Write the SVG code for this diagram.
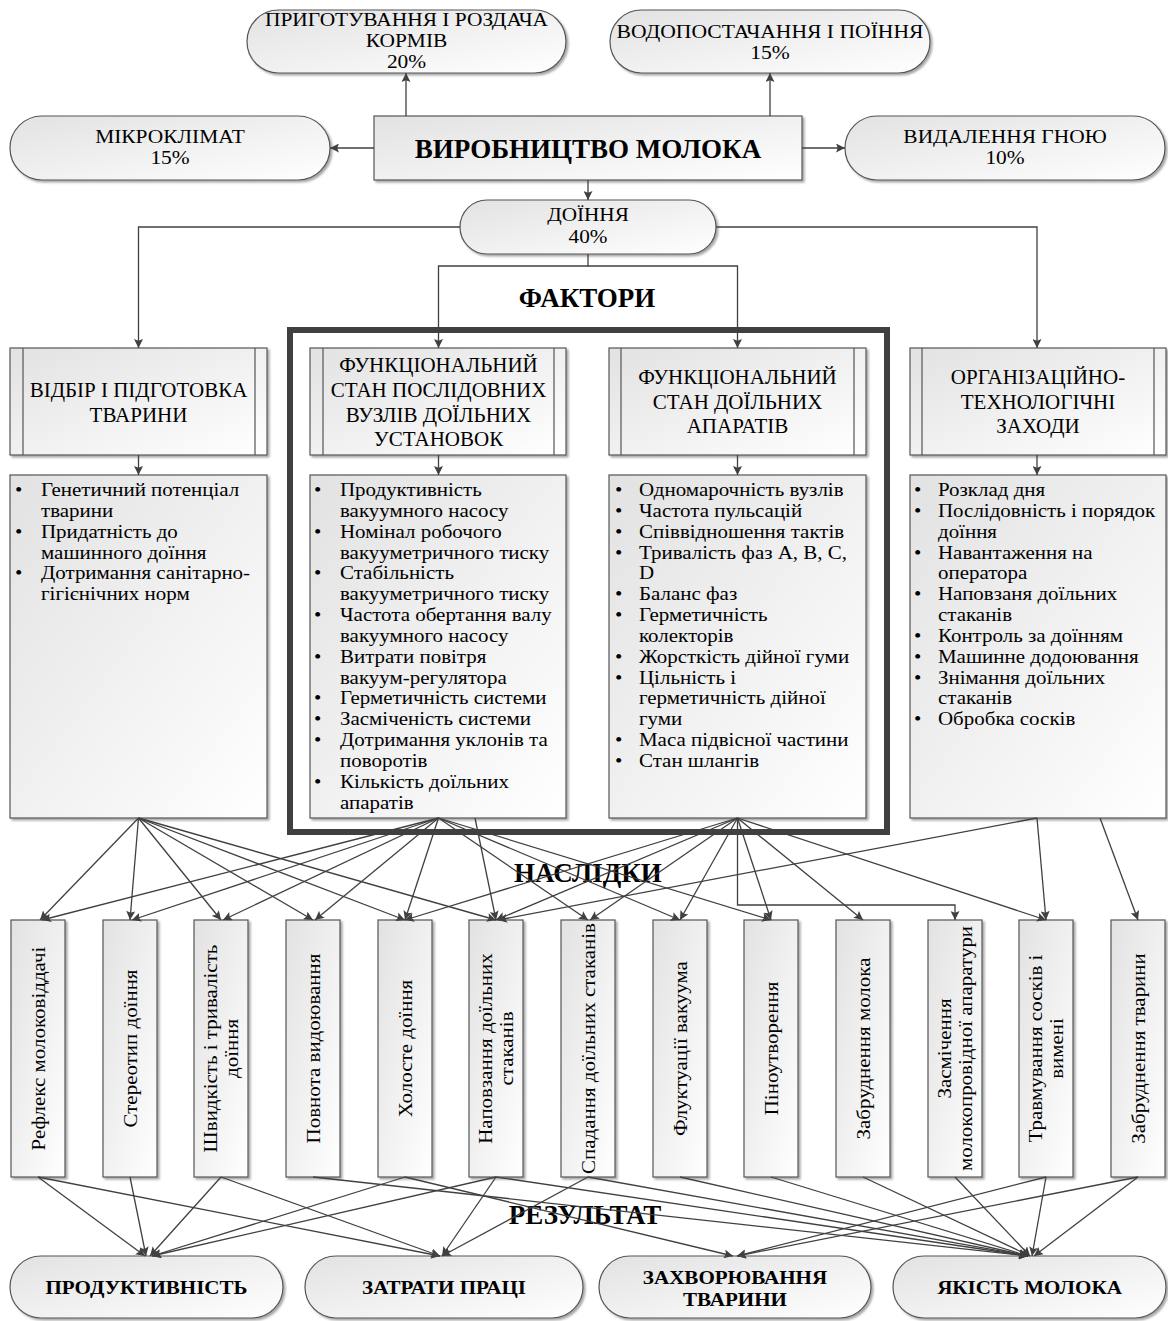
<svg xmlns="http://www.w3.org/2000/svg" width="1168" height="1321" viewBox="0 0 1168 1321">
<defs>
<linearGradient id="gf" x1="0" y1="0" x2="1" y2="1"><stop offset="0" stop-color="#e2e2e2"/><stop offset="1" stop-color="#ffffff"/></linearGradient>
<filter id="sh" x="-10%" y="-10%" width="125%" height="125%"><feDropShadow dx="2" dy="2" stdDeviation="1.2" flood-color="#000" flood-opacity="0.35"/></filter>
<marker id="ah" viewBox="0 0 10 10" refX="10" refY="5" markerWidth="10" markerHeight="9" orient="auto" markerUnits="userSpaceOnUse"><path d="M0,0 L10,5 L0,10 L2,5 z" fill="#404040"/></marker>
</defs>
<style>
.nd{fill:url(#gf);stroke:#555;stroke-width:1.2;filter:url(#sh)}
.in{fill:none;stroke:#555;stroke-width:1.2}
.ln{fill:none;stroke:#404040;stroke-width:1.3;marker-end:url(#ah)}
.t{font-family:"Liberation Serif","Times New Roman",serif;font-size:18.8px;fill:#000}
.h{font-family:"Liberation Serif","Times New Roman",serif;font-size:21px;fill:#000}
.c{text-anchor:middle}
.b{font-weight:bold}
.bt{font-family:"Liberation Serif","Times New Roman",serif;font-size:19.5px;font-weight:bold;fill:#000;text-anchor:middle}
.big{font-family:"Liberation Serif","Times New Roman",serif;font-size:27px;font-weight:bold;fill:#000;text-anchor:middle}
</style>
<rect width="1168" height="1321" fill="#fff"/>

<g id="frame"><rect x="290" y="330" width="597" height="502" fill="none" stroke="#404040" stroke-width="6"/></g>

<g id="n-feed"><rect class="nd" x="247" y="10" width="319" height="63" rx="31.5"/><text class="t c" transform="translate(406.5 0) scale(1.14 1)"><tspan x="0" y="26.5">ПРИГОТУВАННЯ І РОЗДАЧА</tspan><tspan x="0" y="47.5">КОРМІВ</tspan><tspan x="0" y="68.5">20%</tspan></text></g>
<g id="n-water"><rect class="nd" x="610" y="10" width="320" height="63" rx="31.5"/><text class="t c" transform="translate(770 0) scale(1.15 1)"><tspan x="0" y="38">ВОДОПОСТАЧАННЯ І ПОЇННЯ</tspan><tspan x="0" y="59">15%</tspan></text></g>
<g id="n-micro"><rect class="nd" x="10" y="116" width="320" height="64" rx="32"/><text class="t c" transform="translate(170 0) scale(1.14 1)"><tspan x="0" y="143.5">МІКРОКЛІМАТ</tspan><tspan x="0" y="164.5">15%</tspan></text></g>
<g id="n-main"><rect class="nd" x="374" y="116" width="428" height="64"/><text class="big" x="588" y="158">ВИРОБНИЦТВО МОЛОКА</text></g>
<g id="n-manure"><rect class="nd" x="845" y="116" width="320" height="64" rx="32"/><text class="t c" transform="translate(1005 0) scale(1.14 1)"><tspan x="0" y="143.5">ВИДАЛЕННЯ ГНОЮ</tspan><tspan x="0" y="164.5">10%</tspan></text></g>
<g id="n-milking"><rect class="nd" x="460" y="200" width="256" height="54" rx="27"/><text class="t c" transform="translate(588 0) scale(1.13 1)"><tspan x="0" y="221">ДОЇННЯ</tspan><tspan x="0" y="243">40%</tspan></text></g>

<text class="big" x="587" y="307">ФАКТОРИ</text>
<text class="big" x="588" y="882">НАСЛІДКИ</text>
<text class="big" x="585" y="1224">РЕЗУЛЬТАТ</text>

<g id="f1"><rect class="nd" x="10" y="348" width="257" height="107"/><path class="in" d="M23,348V455M255,348V455"/><text class="h c" x="138.5" y="397">ВІДБІР І ПІДГОТОВКА</text><text class="h c" x="138.5" y="422">ТВАРИНИ</text></g>
<g id="f2"><rect class="nd" x="310" y="348" width="256" height="107"/><path class="in" d="M323,348V455M554,348V455"/><text class="h c" x="438.5" y="372">ФУНКЦІОНАЛЬНИЙ</text><text class="h c" x="438.5" y="397">СТАН ПОСЛІДОВНИХ</text><text class="h c" x="438.5" y="422">ВУЗЛІВ ДОЇЛЬНИХ</text><text class="h c" x="438.5" y="446">УСТАНОВОК</text></g>
<g id="f3"><rect class="nd" x="609" y="348" width="257" height="107"/><path class="in" d="M621,348V455M854,348V455"/><text class="h c" x="737.5" y="384">ФУНКЦІОНАЛЬНИЙ</text><text class="h c" x="737.5" y="409">СТАН ДОЇЛЬНИХ</text><text class="h c" x="737.5" y="433">АПАРАТІВ</text></g>
<g id="f4"><rect class="nd" x="910" y="348" width="256" height="107"/><path class="in" d="M922,348V455M1154,348V455"/><text class="h c" x="1038" y="384">ОРГАНІЗАЦІЙНО-</text><text class="h c" x="1038" y="409">ТЕХНОЛОГІЧНІ</text><text class="h c" x="1038" y="433">ЗАХОДИ</text></g>

<g id="l1"><rect class="nd" x="10" y="475" width="257" height="343"/>
<g transform="translate(15 0) scale(1.115 1)"><text class="t"><tspan x="0" y="496">•</tspan><tspan x="23.3" y="496">Генетичний потенціал</tspan><tspan x="23.3" y="516.85">тварини</tspan><tspan x="0" y="537.7">•</tspan><tspan x="23.3" y="537.7">Придатність до</tspan><tspan x="23.3" y="558.55">машинного доїння</tspan><tspan x="0" y="579.4">•</tspan><tspan x="23.3" y="579.4">Дотримання санітарно-</tspan><tspan x="23.3" y="600.25">гігієнічних норм</tspan></text></g></g>
<g id="l2"><rect class="nd" x="310" y="475" width="256" height="343"/>
<g transform="translate(314 0) scale(1.115 1)"><text class="t"><tspan x="0" y="496">•</tspan><tspan x="23.3" y="496">Продуктивність</tspan><tspan x="23.3" y="516.85">вакуумного насосу</tspan><tspan x="0" y="537.7">•</tspan><tspan x="23.3" y="537.7">Номінал робочого</tspan><tspan x="23.3" y="558.55">вакууметричного тиску</tspan><tspan x="0" y="579.4">•</tspan><tspan x="23.3" y="579.4">Стабільність</tspan><tspan x="23.3" y="600.25">вакууметричного тиску</tspan><tspan x="0" y="621.1">•</tspan><tspan x="23.3" y="621.1">Частота обертання валу</tspan><tspan x="23.3" y="641.95">вакуумного насосу</tspan><tspan x="0" y="662.8">•</tspan><tspan x="23.3" y="662.8">Витрати повітря</tspan><tspan x="23.3" y="683.65">вакуум-регулятора</tspan><tspan x="0" y="704.5">•</tspan><tspan x="23.3" y="704.5">Герметичність системи</tspan><tspan x="0" y="725.35">•</tspan><tspan x="23.3" y="725.35">Засміченість системи</tspan><tspan x="0" y="746.2">•</tspan><tspan x="23.3" y="746.2">Дотримання уклонів та</tspan><tspan x="23.3" y="767.05">поворотів</tspan><tspan x="0" y="787.9">•</tspan><tspan x="23.3" y="787.9">Кількість доїльних</tspan><tspan x="23.3" y="808.75">апаратів</tspan></text></g></g>
<g id="l3"><rect class="nd" x="609" y="475" width="257" height="343"/>
<g transform="translate(615 0) scale(1.115 1)"><text class="t"><tspan x="0" y="496">•</tspan><tspan x="21.5" y="496">Одномарочність вузлів</tspan><tspan x="0" y="516.85">•</tspan><tspan x="21.5" y="516.85">Частота пульсацій</tspan><tspan x="0" y="537.7">•</tspan><tspan x="21.5" y="537.7">Співвідношення тактів</tspan><tspan x="0" y="558.55">•</tspan><tspan x="21.5" y="558.55">Тривалість фаз A, B, C,</tspan><tspan x="21.5" y="579.4">D</tspan><tspan x="0" y="600.25">•</tspan><tspan x="21.5" y="600.25">Баланс фаз</tspan><tspan x="0" y="621.1">•</tspan><tspan x="21.5" y="621.1">Герметичність</tspan><tspan x="21.5" y="641.95">колекторів</tspan><tspan x="0" y="662.8">•</tspan><tspan x="21.5" y="662.8">Жорсткість дійної гуми</tspan><tspan x="0" y="683.65">•</tspan><tspan x="21.5" y="683.65">Цільність і</tspan><tspan x="21.5" y="704.5">герметичність дійної</tspan><tspan x="21.5" y="725.35">гуми</tspan><tspan x="0" y="746.2">•</tspan><tspan x="21.5" y="746.2">Маса підвісної частини</tspan><tspan x="0" y="767.05">•</tspan><tspan x="21.5" y="767.05">Стан шлангів</tspan></text></g></g>
<g id="l4"><rect class="nd" x="910" y="475" width="256" height="343"/>
<g transform="translate(914 0) scale(1.115 1)"><text class="t"><tspan x="0" y="496">•</tspan><tspan x="21.5" y="496">Розклад дня</tspan><tspan x="0" y="516.85">•</tspan><tspan x="21.5" y="516.85">Послідовність і порядок</tspan><tspan x="21.5" y="537.7">доїння</tspan><tspan x="0" y="558.55">•</tspan><tspan x="21.5" y="558.55">Навантаження на</tspan><tspan x="21.5" y="579.4">оператора</tspan><tspan x="0" y="600.25">•</tspan><tspan x="21.5" y="600.25">Наповзаня доїльних</tspan><tspan x="21.5" y="621.1">стаканів</tspan><tspan x="0" y="641.95">•</tspan><tspan x="21.5" y="641.95">Контроль за доїнням</tspan><tspan x="0" y="662.8">•</tspan><tspan x="21.5" y="662.8">Машинне додоювання</tspan><tspan x="0" y="683.65">•</tspan><tspan x="21.5" y="683.65">Знімання доїльних</tspan><tspan x="21.5" y="704.5">стаканів</tspan><tspan x="0" y="725.35">•</tspan><tspan x="21.5" y="725.35">Обробка сосків</tspan></text></g></g>

<g id="c1"><rect class="nd" x="11" y="920" width="54" height="257"/><text class="t c" transform="translate(38 1048.5) rotate(-90) scale(1.115 1)" x="0" y="7">Рефлекс молоковіддачі</text></g>
<g id="c2"><rect class="nd" x="103" y="920" width="54" height="257"/><text class="t c" transform="translate(130 1048.5) rotate(-90) scale(1.115 1)" x="0" y="7">Стереотип доїння</text></g>
<g id="c3"><rect class="nd" x="194" y="920" width="54" height="257"/><text class="t c" transform="translate(221 1048.5) rotate(-90) scale(1.115 1)"><tspan x="0" y="-4.5">Швидкість і тривалість</tspan><tspan x="0" y="17.5">доїння</tspan></text></g>
<g id="c4"><rect class="nd" x="286" y="920" width="54" height="257"/><text class="t c" transform="translate(313 1048.5) rotate(-90) scale(1.115 1)" x="0" y="7">Повнота видоювання</text></g>
<g id="c5"><rect class="nd" x="378" y="920" width="54" height="257"/><text class="t c" transform="translate(405 1048.5) rotate(-90) scale(1.115 1)" x="0" y="7">Холосте доїння</text></g>
<g id="c6"><rect class="nd" x="469" y="920" width="54" height="257"/><text class="t c" transform="translate(496 1048.5) rotate(-90) scale(1.115 1)"><tspan x="0" y="-4.5">Наповзання доїльних</tspan><tspan x="0" y="17.5">стаканів</tspan></text></g>
<g id="c7"><rect class="nd" x="561" y="920" width="54" height="257"/><text class="t c" transform="translate(588 1048.5) rotate(-90) scale(1.115 1)" x="0" y="7">Спадання доїльних стаканів</text></g>
<g id="c8"><rect class="nd" x="653" y="920" width="54" height="257"/><text class="t c" transform="translate(680 1048.5) rotate(-90) scale(1.115 1)" x="0" y="7">Флуктуації вакуума</text></g>
<g id="c9"><rect class="nd" x="744" y="920" width="54" height="257"/><text class="t c" transform="translate(771 1048.5) rotate(-90) scale(1.115 1)" x="0" y="7">Піноутворення</text></g>
<g id="c10"><rect class="nd" x="836" y="920" width="54" height="257"/><text class="t c" transform="translate(863 1048.5) rotate(-90) scale(1.115 1)" x="0" y="7">Забруднення молока</text></g>
<g id="c11"><rect class="nd" x="928" y="920" width="54" height="257"/><text class="t c" transform="translate(955 1048.5) rotate(-90) scale(1.115 1)"><tspan x="0" y="-4.5">Засмічення</tspan><tspan x="0" y="17.5">молокопровідної апаратури</tspan></text></g>
<g id="c12"><rect class="nd" x="1019" y="920" width="54" height="257"/><text class="t c" transform="translate(1046 1048.5) rotate(-90) scale(1.115 1)"><tspan x="0" y="-4.5">Травмування сосків і</tspan><tspan x="0" y="17.5">вимені</tspan></text></g>
<g id="c13"><rect class="nd" x="1111" y="920" width="54" height="257"/><text class="t c" transform="translate(1138 1048.5) rotate(-90) scale(1.115 1)" x="0" y="7">Забруднення тварини</text></g>

<g id="r1"><rect class="nd" x="10" y="1256" width="273" height="62" rx="31"/><text class="bt" transform="translate(146.5 0) scale(1.08 1)" x="0" y="1294">ПРОДУКТИВНІСТЬ</text></g>
<g id="r2"><rect class="nd" x="305" y="1256" width="278" height="62" rx="31"/><text class="bt" transform="translate(444 0) scale(1.08 1)" x="0" y="1294">ЗАТРАТИ ПРАЦІ</text></g>
<g id="r3"><rect class="nd" x="599" y="1256" width="272" height="62" rx="31"/><text class="bt" transform="translate(735 0) scale(1.08 1)"><tspan x="0" y="1284">ЗАХВОРЮВАННЯ</tspan><tspan x="0" y="1306">ТВАРИНИ</tspan></text></g>
<g id="r4"><rect class="nd" x="893" y="1256" width="273" height="62" rx="31"/><text class="bt" transform="translate(1029.5 0) scale(1.08 1)" x="0" y="1294">ЯКІСТЬ МОЛОКА</text></g>

<g id="connectors">
<path class="ln" d="M406,116V73"/>
<path class="ln" d="M770,116V73"/>
<path class="ln" d="M374,148H330"/>
<path class="ln" d="M802,148H845"/>
<path class="ln" d="M588,180V200"/>
<path class="ln" d="M460,227H138.5V348"/>
<path class="ln" d="M716,227H1037V348"/>
<path class="ln" d="M588,254V266H438.5V348"/>
<path class="ln" d="M588,266H737.5V348"/>
<path class="ln" d="M138.5,455V475"/>
<path class="ln" d="M438.5,455V475"/>
<path class="ln" d="M737.5,455V475"/>
<path class="ln" d="M1037,455V475"/>

<path class="ln" d="M138.5,818L40,920"/>
<path class="ln" d="M138.5,818L130,920"/>
<path class="ln" d="M138.5,818L221,920"/>
<path class="ln" d="M138.5,818L313,920"/>
<path class="ln" d="M138.5,818L405,920"/>
<path class="ln" d="M138.5,818L496,920"/>
<path class="ln" d="M438.5,818L42,920"/>
<path class="ln" d="M438.5,818L132,920"/>
<path class="ln" d="M438.5,818L223,920"/>
<path class="ln" d="M438.5,818L315,920"/>
<path class="ln" d="M438.5,818L405,920"/>
<path class="ln" d="M475,818L496,920"/>
<path class="ln" d="M438.5,818L588,920"/>
<path class="ln" d="M438.5,818L680,920"/>
<path class="ln" d="M438.5,818L771,920"/>
<path class="ln" d="M737.5,818L405,920"/>
<path class="ln" d="M737.5,818L496,920"/>
<path class="ln" d="M737.5,818L590,920"/>
<path class="ln" d="M737.5,818L680,920"/>
<path class="ln" d="M737.5,818L771,920"/>
<path class="ln" d="M737.5,818L863,920"/>
<path class="ln" d="M737.5,818V905H955V920"/>
<path class="ln" d="M737.5,818L1046,920"/>
<path class="ln" d="M1037,818L498,920"/>
<path class="ln" d="M1037,818L1046,920"/>
<path class="ln" d="M1100,818L1138,920"/>

<path class="ln" d="M38,1177L145,1256"/>
<path class="ln" d="M38,1177L440,1256"/>
<path class="ln" d="M130,1177L146,1256"/>
<path class="ln" d="M221,1177L150,1256"/>
<path class="ln" d="M221,1177L440,1256"/>
<path class="ln" d="M313,1177L1028,1256"/>
<path class="ln" d="M405,1177L152,1256"/>
<path class="ln" d="M405,1177L733,1256"/>
<path class="ln" d="M496,1177L152,1256"/>
<path class="ln" d="M496,1177L442,1256"/>
<path class="ln" d="M496,1177L1028,1256"/>
<path class="ln" d="M588,1177L442,1256"/>
<path class="ln" d="M588,1177L1028,1256"/>
<path class="ln" d="M680,1177L1028,1256"/>
<path class="ln" d="M771,1177L1028,1256"/>
<path class="ln" d="M863,1177L1030,1256"/>
<path class="ln" d="M955,1177L1030,1256"/>
<path class="ln" d="M1046,1177L737,1256"/>
<path class="ln" d="M1046,1177L1032,1256"/>
<path class="ln" d="M1138,1177L737,1256"/>
<path class="ln" d="M1138,1177L1034,1256"/>
</g>
</svg>
